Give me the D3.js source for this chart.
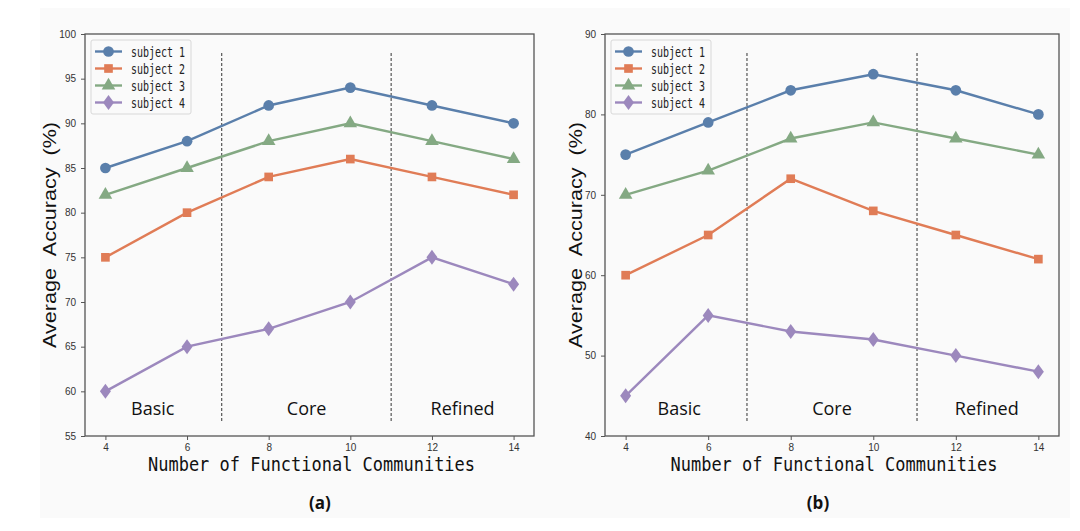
<!DOCTYPE html>
<html><head><meta charset="utf-8">
<script src="https://cdn.jsdelivr.net/npm/d3@7"></script>
<style>
body{margin:0;background:#ffffff;}
svg{display:block;}
</style></head>
<body>
<svg id="chart" width="1080" height="531"></svg>
<script>
const xValues = [4, 6, 8, 10, 12, 14];
const seriesNames = ["subject 1", "subject 2", "subject 3", "subject 4"];
const seriesColors = ["#5a7fab", "#e07c56", "#84a983", "#9c88bd"];
const seriesMarkers = ["circle", "square", "triangle", "diamond"];

const panelA_s1 = [85, 88, 92, 94, 92, 90];
const panelA_s2 = [75, 80, 84, 86, 84, 82];
const panelA_s3 = [82, 85, 88, 90, 88, 86];
const panelA_s4 = [60, 65, 67, 70, 75, 72];
const panelA_yTicks = [55, 60, 65, 70, 75, 80, 85, 90, 95, 100];

const panelB_s1 = [75, 79, 83, 85, 83, 80];
const panelB_s2 = [60, 65, 72, 68, 65, 62];
const panelB_s3 = [70, 73, 77, 79, 77, 75];
const panelB_s4 = [45, 55, 53, 52, 50, 48];
const panelB_yTicks = [40, 50, 60, 70, 80, 90];

const regionLabels = ["Basic", "Core", "Refined"];
const xLabel = "Number of Functional Communities";
const yLabel = "Average\u00a0\u00a0Accuracy\u00a0\u00a0(%)";

const panels = [
  {left: 85, right: 534, yDomain: [55, 100], yTicks: panelA_yTicks,
   series: [panelA_s1, panelA_s2, panelA_s3, panelA_s4],
   dividers: [6.85, 11.0], regionX: [5.16, 8.93, 12.75], caption: "(a)", captionX: 320, yLabelX: 56},
  {left: 605, right: 1059, yDomain: [40, 90], yTicks: panelB_yTicks,
   series: [panelB_s1, panelB_s2, panelB_s3, panelB_s4],
   dividers: [6.94, 11.06], regionX: [5.3, 9.0, 12.75], caption: "(b)", captionX: 818, yLabelX: 582}
];

const svg = d3.select("#chart");
svg.append("rect").attr("x", 40).attr("y", 8).attr("width", 1030).attr("height", 510).attr("fill", "#fafafa");

const plotTop = 34, plotBottom = 436;
const symbolTypes = {circle: d3.symbolCircle, square: d3.symbolSquare, triangle: d3.symbolTriangle, diamond: d3.symbolDiamond};
const symbolSizes = {circle: 90, square: 75, triangle: 80, diamond: 75};

function marker(g, type, color, x, y) {
  if (type === "diamond") {
    g.append("path").attr("d", "M0,-7.5L5.5,0L0,7.5L-5.5,0Z")
      .attr("transform", `translate(${x},${y})`).attr("fill", color);
  } else {
    g.append("path").attr("d", d3.symbol().type(symbolTypes[type]).size(symbolSizes[type])())
      .attr("transform", `translate(${x},${y})`).attr("fill", color);
  }
}

panels.forEach(p => {
  const x = d3.scaleLinear().domain([3.5, 14.5]).range([p.left, p.right]);
  const y = d3.scaleLinear().domain(p.yDomain).range([plotBottom, plotTop]);
  const g = svg.append("g");

  const xAxis = d3.axisBottom(x).tickValues(xValues).tickSize(4).tickSizeOuter(0).tickPadding(4);
  const gx = g.append("g").attr("transform", `translate(0,${plotBottom})`).call(xAxis);
  const yAxis = d3.axisLeft(y).tickValues(p.yTicks).tickSize(4).tickSizeOuter(0).tickPadding(5);
  const gy = g.append("g").attr("transform", `translate(${p.left},0)`).call(yAxis);
  [gx, gy].forEach(a => {
    a.select(".domain").remove();
    a.selectAll(".tick line").attr("stroke", "#555").attr("stroke-width", 1);
    a.selectAll(".tick text").attr("fill", "#333").attr("font-size", 10)
      .attr("font-family", "'Liberation Sans', Arial, sans-serif");
  });

  p.dividers.forEach(d => {
    g.append("line").attr("x1", x(d)).attr("x2", x(d))
      .attr("y1", plotTop + 19).attr("y2", plotBottom - 14)
      .attr("stroke", "#333").attr("stroke-width", 1).attr("stroke-dasharray", "3,2");
  });

  regionLabels.forEach((t, i) => {
    g.append("text").attr("x", x(p.regionX[i])).attr("y", plotBottom - 21)
      .attr("text-anchor", "middle").attr("font-size", 18)
      .attr("font-family", "'Open Sans', 'Noto Sans', sans-serif").attr("fill", "#111").text(t);
  });

  p.series.forEach((vals, si) => {
    const pts = xValues.map((xv, i) => [x(xv), y(vals[i])]);
    g.append("path").attr("d", d3.line()(pts)).attr("fill", "none")
      .attr("stroke", seriesColors[si]).attr("stroke-width", 2.4);
    pts.forEach(pt => marker(g, seriesMarkers[si], seriesColors[si], pt[0], pt[1]));
  });

  g.append("rect").attr("x", p.left).attr("y", plotTop).attr("width", p.right - p.left).attr("height", plotBottom - plotTop)
    .attr("fill", "none").attr("stroke", "#555").attr("stroke-width", 1.3);

  const lg = g.append("g").attr("transform", `translate(${p.left + 6},${plotTop + 6})`);
  lg.append("rect").attr("width", 100).attr("height", 74).attr("rx", 2)
    .attr("fill", "#fafafa").attr("stroke", "#d8d8d8").attr("stroke-width", 1);
  seriesNames.forEach((n, i) => {
    const yy = 11.5 + i * 17;
    lg.append("line").attr("x1", 4).attr("x2", 31).attr("y1", yy).attr("y2", yy)
      .attr("stroke", seriesColors[i]).attr("stroke-width", 2.4);
    marker(lg, seriesMarkers[i], seriesColors[i], 17.5, yy);
    lg.append("text").attr("x", 40).attr("y", yy + 5).attr("font-size", 13.5)
      .attr("font-family", "'DejaVu Sans Mono', 'Liberation Mono', monospace")
      .attr("textLength", 54).attr("lengthAdjust", "spacingAndGlyphs")
      .attr("fill", "#222").text(n);
  });

  g.append("text").attr("x", (p.left + p.right) / 2 + 2).attr("y", 471)
    .attr("text-anchor", "middle").attr("font-size", 20)
    .attr("font-family", "'DejaVu Sans Mono', 'Liberation Mono', monospace")
    .attr("textLength", 327).attr("lengthAdjust", "spacingAndGlyphs")
    .attr("fill", "#111").text(xLabel);

  g.append("text").attr("transform", `translate(${p.yLabelX},${(plotTop + plotBottom) / 2}) rotate(-90)`)
    .attr("text-anchor", "middle").attr("font-size", 18)
    .attr("font-family", "'Liberation Sans', Arial, sans-serif")
    .attr("textLength", 226).attr("lengthAdjust", "spacingAndGlyphs")
    .attr("fill", "#111").text(yLabel);

  g.append("text").attr("x", p.captionX).attr("y", 509)
    .attr("text-anchor", "middle").attr("font-size", 17).attr("font-weight", "bold")
    .attr("font-family", "'Open Sans', 'Noto Sans', sans-serif").attr("fill", "#111").text(p.caption);
});
</script>
</body></html>
